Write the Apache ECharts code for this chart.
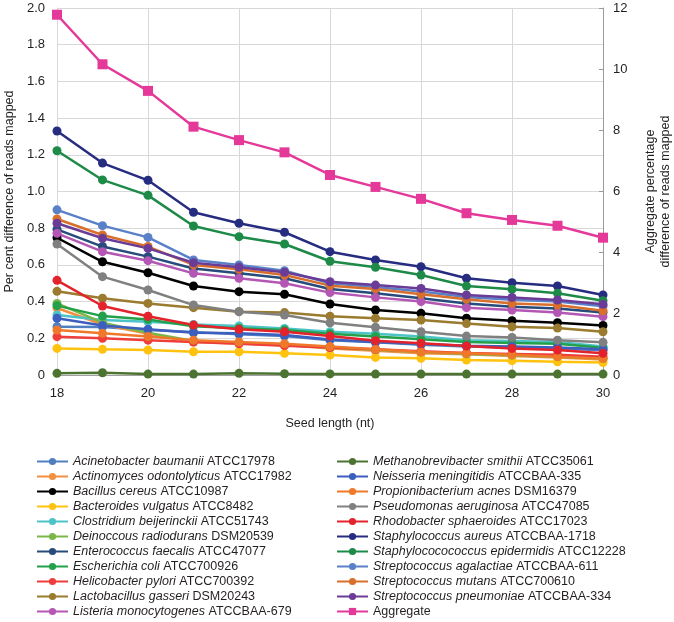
<!DOCTYPE html>
<html>
<head>
<meta charset="utf-8">
<script src="https://cdn.jsdelivr.net/npm/echarts@6/dist/echarts.min.js"></script>
<style>
html,body{margin:0;padding:0;background:#fff;}
#c{width:674px;height:622px;}
</style>
</head>
<body>
<div id="c"></div>
<script>
// ---- data ----
const seedLengths = [18, 19, 20, 21, 22, 23, 24, 25, 26, 27, 28, 29, 30];
const xTicks = [18, 20, 22, 24, 26, 28, 30];
const leftTicks = [0, 0.2, 0.4, 0.6, 0.8, 1.0, 1.2, 1.4, 1.6, 1.8, 2.0];
const rightTicks = [0, 2, 4, 6, 8, 10, 12];

const speciesNames = [
  'Acinetobacter baumanii', 'Actinomyces odontolyticus', 'Bacillus cereus', 'Bacteroides vulgatus',
  'Clostridium beijerinckii', 'Deinoccous radiodurans', 'Enterococcus faecalis', 'Escherichia coli',
  'Helicobacter pylori', 'Lactobacillus gasseri', 'Listeria monocytogenes',
  'Methanobrevibacter smithii', 'Neisseria meningitidis', 'Propionibacterium acnes', 'Pseudomonas aeruginosa',
  'Rhodobacter sphaeroides', 'Staphylococcus aureus', 'Staphylococococcus epidermidis', 'Streptococcus agalactiae',
  'Streptococcus mutans', 'Streptococcus pneumoniae'
];
const strainNames = [
  'ATCC17978', 'ATCC17982', 'ATCC10987', 'ATCC8482',
  'ATCC51743', 'DSM20539', 'ATCC47077', 'ATCC700926',
  'ATCC700392', 'DSM20243', 'ATCCBAA-679',
  'ATCC35061', 'ATCCBAA-335', 'DSM16379', 'ATCC47085',
  'ATCC17023', 'ATCCBAA-1718', 'ATCC12228', 'ATCCBAA-611',
  'ATCC700610', 'ATCCBAA-334'
];
const aggregateName = 'Aggregate';

const acinetobacter      = [0.263, 0.262, 0.245, 0.235, 0.222, 0.212, 0.190, 0.178, 0.165, 0.155, 0.150, 0.145, 0.135];
const actinomyces        = [0.365, 0.275, 0.225, 0.180, 0.172, 0.163, 0.145, 0.132, 0.118, 0.113, 0.104, 0.096, 0.085];
const bacillus           = [0.748, 0.617, 0.557, 0.485, 0.454, 0.440, 0.387, 0.354, 0.336, 0.309, 0.296, 0.285, 0.270];
const bacteroides        = [0.145, 0.140, 0.136, 0.127, 0.127, 0.118, 0.109, 0.096, 0.091, 0.082, 0.078, 0.072, 0.068];
const clostridium        = [0.327, 0.300, 0.290, 0.275, 0.267, 0.254, 0.236, 0.225, 0.210, 0.190, 0.185, 0.180, 0.155];
const deinococcus        = [0.390, 0.285, 0.230, 0.185, 0.175, 0.165, 0.150, 0.138, 0.125, 0.115, 0.108, 0.100, 0.090];
const enterococcus       = [0.794, 0.700, 0.645, 0.580, 0.554, 0.527, 0.469, 0.445, 0.418, 0.390, 0.372, 0.363, 0.340];
const escherichia        = [0.378, 0.321, 0.303, 0.265, 0.255, 0.245, 0.225, 0.210, 0.195, 0.180, 0.175, 0.170, 0.148];
const helicobacter       = [0.209, 0.200, 0.190, 0.180, 0.170, 0.160, 0.150, 0.140, 0.130, 0.120, 0.115, 0.110, 0.100];
const lactobacillus      = [0.456, 0.418, 0.390, 0.367, 0.345, 0.340, 0.320, 0.309, 0.300, 0.280, 0.263, 0.256, 0.236];
const listeria           = [0.772, 0.672, 0.623, 0.554, 0.527, 0.500, 0.449, 0.423, 0.400, 0.367, 0.354, 0.340, 0.318];
const methanobrevibacter = [0.009, 0.012, 0.005, 0.005, 0.009, 0.007, 0.006, 0.005, 0.005, 0.005, 0.005, 0.005, 0.005];
const neisseria          = [0.309, 0.270, 0.249, 0.230, 0.227, 0.218, 0.194, 0.180, 0.170, 0.160, 0.155, 0.150, 0.140];
const propionibacterium  = [0.245, 0.227, 0.210, 0.190, 0.180, 0.170, 0.155, 0.140, 0.125, 0.118, 0.110, 0.100, 0.090];
const pseudomonas        = [0.714, 0.536, 0.463, 0.381, 0.345, 0.327, 0.285, 0.260, 0.236, 0.212, 0.205, 0.190, 0.178];
const rhodobacter        = [0.516, 0.376, 0.320, 0.272, 0.249, 0.236, 0.212, 0.187, 0.173, 0.158, 0.145, 0.136, 0.118];
const staphAureus        = [1.330, 1.155, 1.061, 0.887, 0.827, 0.778, 0.672, 0.627, 0.590, 0.527, 0.503, 0.485, 0.436];
const staphEpidermidis   = [1.222, 1.063, 0.979, 0.812, 0.754, 0.714, 0.620, 0.587, 0.545, 0.485, 0.467, 0.445, 0.405];
const strepAgalactiae    = [0.900, 0.814, 0.750, 0.627, 0.600, 0.568, 0.500, 0.480, 0.455, 0.425, 0.410, 0.400, 0.375];
const strepMutans        = [0.850, 0.763, 0.700, 0.600, 0.576, 0.545, 0.487, 0.469, 0.440, 0.413, 0.390, 0.381, 0.350];
const strepPneumoniae    = [0.827, 0.745, 0.690, 0.612, 0.587, 0.560, 0.508, 0.490, 0.472, 0.436, 0.423, 0.409, 0.385];
const aggregate          = [11.78, 10.16, 9.29, 8.12, 7.68, 7.28, 6.54, 6.15, 5.76, 5.29, 5.07, 4.88, 4.49];

const speciesValues = [
  acinetobacter, actinomyces, bacillus, bacteroides, clostridium, deinococcus, enterococcus, escherichia,
  helicobacter, lactobacillus, listeria, methanobrevibacter, neisseria, propionibacterium, pseudomonas,
  rhodobacter, staphAureus, staphEpidermidis, strepAgalactiae, strepMutans, strepPneumoniae
];
const speciesColors = [
  '#4f7fc0', '#f39040', '#000000', '#ffc20e', '#4cc3c6', '#7ab648', '#274b7a', '#23a04a',
  '#ee3d3a', '#9a7b2f', '#b457b4', '#4b7431', '#3c5fbf', '#f0782a', '#808080',
  '#e3222b', '#262c80', '#1d8a48', '#5a80c8', '#d86f2d', '#6a3c98'
];
const aggregateColor = '#e5399a';

// ---- build ----
const fullNames = speciesNames.map((s, i) => s + ' ' + strainNames[i]);
const italicMap = {};
speciesNames.forEach((s, i) => { italicMap[fullNames[i]] = [s, strainNames[i]]; });

const series = speciesValues.map((vals, i) => ({
  name: fullNames[i],
  type: 'line',
  xAxisIndex: 0,
  yAxisIndex: 0,
  data: seedLengths.map((x, j) => [x, vals[j]]),
  symbol: 'circle',
  symbolSize: 9,
  color: speciesColors[i],
  lineStyle: { width: 2.5, color: speciesColors[i] },
  itemStyle: { color: speciesColors[i] },
  animation: false
}));
series.push({
  name: aggregateName,
  type: 'line',
  yAxisIndex: 1,
  data: seedLengths.map((x, j) => [x, aggregate[j]]),
  symbol: 'rect',
  symbolSize: 10,
  color: aggregateColor,
  lineStyle: { width: 2.5, color: aggregateColor },
  itemStyle: { color: aggregateColor },
  z: 5,
  animation: false
});

const legendFont = 'Liberation Sans, Arial, Helvetica, sans-serif';
const legendBase = {
  orient: 'vertical',
  top: 455,
  height: 166,
  itemWidth: 31,
  itemHeight: 9,
  itemGap: 2,
  padding: 0,
  textStyle: {
    fontFamily: legendFont, fontSize: 12.5, color: '#231f20', lineHeight: 13,
    rich: {
      it: { fontStyle: 'italic', fontFamily: legendFont, fontSize: 12.5, color: '#231f20', lineHeight: 13 },
      nm: { fontFamily: legendFont, fontSize: 12.5, color: '#231f20', lineHeight: 13 }
    }
  },
  formatter: function (name) {
    const p = italicMap[name];
    if (!p) return '{nm|' + name + '}';
    return '{it|' + p[0] + '} {nm|' + p[1] + '}';
  },
  selectedMode: false
};

const chart = echarts.init(document.getElementById('c'), null, { renderer: 'canvas' });
const axisFont = { fontFamily: legendFont, fontSize: 13, color: '#231f20' };

chart.setOption({
  backgroundColor: '#ffffff',
  animation: false,
  grid: { left: 57, right: 71, top: 8, bottom: 247, containLabel: false, outerBoundsMode: 'none' },
  legend: [
    Object.assign({}, legendBase, { left: 36, data: fullNames.slice(0, 11) }),
    Object.assign({}, legendBase, { left: 336, data: fullNames.slice(11).concat([aggregateName]) })
  ],
  xAxis: {
    type: 'value',
    min: xTicks[0],
    max: xTicks[xTicks.length - 1],
    interval: xTicks[1] - xTicks[0],
    name: 'Seed length (nt)',
    nameLocation: 'middle',
    nameGap: 42,
    nameTextStyle: { fontFamily: legendFont, fontSize: 12.5, color: '#231f20' },
    axisLine: { show: true, lineStyle: { color: '#a0a0a0', width: 1 } },
    axisTick: { show: false },
    axisLabel: Object.assign({ margin: 12 }, axisFont),
    splitLine: { show: true, lineStyle: { color: '#d8d8d8', width: 1 } }
  },
  yAxis: [
    {
      type: 'value',
      min: leftTicks[0],
      max: leftTicks[leftTicks.length - 1],
      interval: leftTicks[1] - leftTicks[0],
      position: 'left',
      name: 'Per cent difference of reads mapped',
      nameLocation: 'middle',
      nameRotate: 90,
      nameGap: 33,
      nameTextStyle: { fontFamily: legendFont, fontSize: 12.5, color: '#231f20' },
      axisLine: { show: true, lineStyle: { color: '#d8d8d8' } },
      axisTick: { show: false },
      axisLabel: Object.assign({
        margin: 12,
        formatter: function (v) { return v === 0 ? '0' : v.toFixed(1); }
      }, axisFont),
      splitLine: { show: true, lineStyle: { color: '#d8d8d8', width: 1 } }
    },
    {
      type: 'value',
      min: rightTicks[0],
      max: rightTicks[rightTicks.length - 1],
      interval: rightTicks[1] - rightTicks[0],
      position: 'right',
      name: 'Aggregate percentage\ndifference of reads mapped',
      nameLocation: 'middle',
      nameRotate: 90,
      nameGap: 40,
      nameTextStyle: { fontFamily: legendFont, fontSize: 12.5, color: '#231f20', lineHeight: 15 },
      axisLine: { show: true, lineStyle: { color: '#9a9a9a', width: 1 } },
      axisTick: { show: true, inside: true, length: 4, lineStyle: { color: '#9a9a9a' } },
      axisLabel: Object.assign({ margin: 10 }, axisFont),
      splitLine: { show: false }
    }
  ],
  series: series
});
</script>
</body>
</html>
